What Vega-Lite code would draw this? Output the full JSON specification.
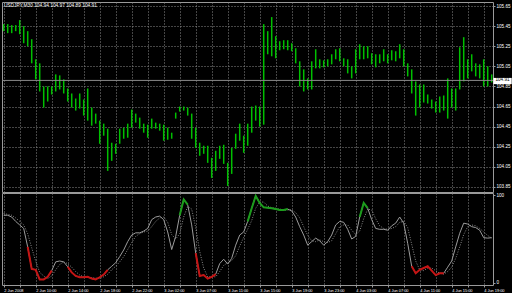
{
  "$schema": "https://vega.github.io/schema/vega-lite/v6.json",
  "background": "black",
  "padding": {"left": 1, "top": 1, "right": 0, "bottom": 0},
  "spacing": -2,
  "config": {
    "view": {"stroke": "#9a9a9a", "strokeWidth": 1},
    "concat": {"spacing": -2},
    "axis": {
      "gridColor": "#8a8a8a", "gridDash": [1, 2], "gridWidth": 1, "gridOpacity": 1,
      "labelColor": "#ffffff", "labelFont": "Liberation Sans", "labelFontSize": 4.6,
      "tickColor": "#9a9a9a", "tickSize": 2, "domain": false, "title": null, "labelOverlap": false
    }
  },
  "data": {"values": [
    {"i":0,"h":105.47,"l":105.40,"m":77,"s":79},
    {"i":1,"h":105.47,"l":105.38,"m":77,"s":78},
    {"i":2,"h":105.46,"l":105.38,"m":75,"s":77},
    {"i":3,"h":105.46,"l":105.40,"m":70,"s":74},
    {"i":4,"h":105.51,"l":105.37,"m":66,"s":70},
    {"i":5,"h":105.45,"l":105.28,"m":62,"s":66},
    {"i":6,"h":105.40,"l":105.25,"m":41,"s":56,"seg":1,"zone":"oversold"},
    {"i":7,"h":105.32,"l":105.08,"m":16,"s":40,"seg":1,"zone":"oversold"},
    {"i":8,"h":105.12,"l":104.92,"m":15,"s":25,"seg":1,"zone":"oversold"},
    {"i":9,"h":105.08,"l":104.80,"m":4,"s":12,"seg":1,"zone":"oversold"},
    {"i":10,"h":104.85,"l":104.64,"m":4,"s":8,"seg":1,"zone":"oversold"},
    {"i":11,"h":104.85,"l":104.70,"m":7,"s":5,"seg":1,"zone":"oversold"},
    {"i":12,"h":104.85,"l":104.77,"m":14,"s":8,"seg":1,"zone":"oversold"},
    {"i":13,"h":104.97,"l":104.80,"m":24,"s":15},
    {"i":14,"h":104.96,"l":104.82,"m":25,"s":21},
    {"i":15,"h":104.92,"l":104.78,"m":24,"s":24},
    {"i":16,"h":104.83,"l":104.70,"m":18.5,"s":22,"seg":2,"zone":"oversold"},
    {"i":17,"h":104.78,"l":104.64,"m":12,"s":18,"seg":2,"zone":"oversold"},
    {"i":18,"h":104.73,"l":104.61,"m":8,"s":13,"seg":2,"zone":"oversold"},
    {"i":19,"h":104.78,"l":104.63,"m":6.5,"s":9,"seg":2,"zone":"oversold"},
    {"i":20,"h":104.72,"l":104.56,"m":6.5,"s":7,"seg":2,"zone":"oversold"},
    {"i":21,"h":104.83,"l":104.51,"m":7,"s":6.5,"seg":2,"zone":"oversold"},
    {"i":22,"h":104.64,"l":104.46,"m":5,"s":6,"seg":2,"zone":"oversold"},
    {"i":23,"h":104.58,"l":104.48,"m":4,"s":5.5,"seg":2,"zone":"oversold"},
    {"i":24,"h":104.51,"l":104.28,"m":6.5,"s":5,"seg":2,"zone":"oversold"},
    {"i":25,"h":104.48,"l":104.36,"m":9.5,"s":7,"seg":2,"zone":"oversold"},
    {"i":26,"h":104.43,"l":104.01,"m":15,"s":10,"seg":2,"zone":"oversold"},
    {"i":27,"h":104.29,"l":104.11,"m":19,"s":15},
    {"i":28,"h":104.28,"l":104.18,"m":23,"s":19},
    {"i":29,"h":104.43,"l":104.28,"m":30,"s":24},
    {"i":30,"h":104.44,"l":104.33,"m":37.5,"s":30},
    {"i":31,"h":104.48,"l":104.34,"m":47,"s":38},
    {"i":32,"h":104.62,"l":104.44,"m":54.5,"s":46},
    {"i":33,"h":104.58,"l":104.49,"m":57,"s":53},
    {"i":34,"h":104.54,"l":104.43,"m":57,"s":56},
    {"i":35,"h":104.48,"l":104.39,"m":59,"s":58},
    {"i":36,"h":104.47,"l":104.34,"m":62,"s":59},
    {"i":37,"h":104.53,"l":104.43,"m":72,"s":64},
    {"i":38,"h":104.49,"l":104.43,"m":75,"s":70},
    {"i":39,"h":104.48,"l":104.41,"m":76,"s":74},
    {"i":40,"h":104.47,"l":104.31,"m":72,"s":75},
    {"i":41,"h":104.44,"l":104.32,"m":58,"s":69},
    {"i":42,"h":104.39,"l":104.33,"m":38,"s":55},
    {"i":43,"h":104.59,"l":104.53,"m":53,"s":50},
    {"i":44,"h":104.65,"l":104.60,"m":77,"s":56,"seg":3,"zone":"overbought"},
    {"i":45,"h":104.65,"l":104.61,"m":95,"s":75,"seg":3,"zone":"overbought"},
    {"i":46,"h":104.64,"l":104.56,"m":89,"s":87,"seg":3,"zone":"overbought"},
    {"i":47,"h":104.58,"l":104.33,"m":66,"s":84},
    {"i":48,"h":104.44,"l":104.24,"m":34,"s":63,"seg":4,"zone":"oversold"},
    {"i":49,"h":104.29,"l":104.16,"m":8,"s":36,"seg":4,"zone":"oversold"},
    {"i":50,"h":104.26,"l":104.18,"m":9,"s":17,"seg":4,"zone":"oversold"},
    {"i":51,"h":104.26,"l":104.09,"m":5,"s":7,"seg":4,"zone":"oversold"},
    {"i":52,"h":104.14,"l":103.94,"m":7,"s":7,"seg":4,"zone":"oversold"},
    {"i":53,"h":104.21,"l":104.01,"m":10,"s":7,"seg":4,"zone":"oversold"},
    {"i":54,"h":104.26,"l":104.13,"m":22,"s":13},
    {"i":55,"h":104.27,"l":104.08,"m":27,"s":20},
    {"i":56,"h":104.09,"l":103.86,"m":21.5,"s":23},
    {"i":57,"h":104.24,"l":103.98,"m":28,"s":25.5},
    {"i":58,"h":104.38,"l":104.23,"m":43,"s":31},
    {"i":59,"h":104.48,"l":104.31,"m":54.5,"s":42},
    {"i":60,"h":104.36,"l":104.19,"m":58,"s":52},
    {"i":61,"h":104.48,"l":104.26,"m":70,"s":61,"seg":5,"zone":"overbought"},
    {"i":62,"h":104.65,"l":104.39,"m":85,"s":71,"seg":5,"zone":"overbought"},
    {"i":63,"h":104.66,"l":104.51,"m":99,"s":85,"seg":5,"zone":"overbought"},
    {"i":64,"h":104.65,"l":104.45,"m":91,"s":92,"seg":5,"zone":"overbought"},
    {"i":65,"h":105.47,"l":104.47,"m":86,"s":92,"seg":5,"zone":"overbought"},
    {"i":66,"h":105.40,"l":105.17,"m":85.5,"s":87.5,"seg":5,"zone":"overbought"},
    {"i":67,"h":105.54,"l":105.15,"m":85,"s":85.5,"seg":5,"zone":"overbought"},
    {"i":68,"h":105.35,"l":105.13,"m":84,"s":85,"seg":5,"zone":"overbought"},
    {"i":69,"h":105.30,"l":105.21,"m":83,"s":84,"seg":5,"zone":"overbought"},
    {"i":70,"h":105.31,"l":105.22,"m":83,"s":83,"seg":5,"zone":"overbought"},
    {"i":71,"h":105.31,"l":105.21,"m":84,"s":83,"seg":5,"zone":"overbought"},
    {"i":72,"h":105.28,"l":105.20,"m":82,"s":83},
    {"i":73,"h":105.23,"l":105.08,"m":75,"s":80},
    {"i":74,"h":105.10,"l":104.85,"m":64,"s":74},
    {"i":75,"h":105.02,"l":104.80,"m":54.5,"s":64},
    {"i":76,"h":104.93,"l":104.82,"m":43,"s":54},
    {"i":77,"h":105.10,"l":104.82,"m":47,"s":48},
    {"i":78,"h":105.22,"l":105.03,"m":51,"s":47},
    {"i":79,"h":105.12,"l":105.03,"m":48,"s":49},
    {"i":80,"h":105.11,"l":105.04,"m":43,"s":47},
    {"i":81,"h":105.12,"l":105.05,"m":47,"s":46},
    {"i":82,"h":105.17,"l":105.07,"m":54.5,"s":48},
    {"i":83,"h":105.22,"l":105.12,"m":66,"s":56},
    {"i":84,"h":105.23,"l":105.10,"m":70,"s":64},
    {"i":85,"h":105.13,"l":105.05,"m":69,"s":66},
    {"i":86,"h":105.12,"l":104.98,"m":61,"s":66},
    {"i":87,"h":105.05,"l":104.93,"m":50,"s":60},
    {"i":88,"h":105.22,"l":104.98,"m":53,"s":55},
    {"i":89,"h":105.27,"l":105.12,"m":75,"s":59,"seg":6,"zone":"overbought"},
    {"i":90,"h":105.25,"l":105.12,"m":91,"s":73,"seg":6,"zone":"overbought"},
    {"i":91,"h":105.25,"l":105.13,"m":85,"s":84,"seg":6,"zone":"overbought"},
    {"i":92,"h":105.18,"l":105.07,"m":72,"s":83},
    {"i":93,"h":105.17,"l":105.04,"m":62,"s":73},
    {"i":94,"h":105.17,"l":105.08,"m":61,"s":65},
    {"i":95,"h":105.22,"l":105.10,"m":61,"s":62},
    {"i":96,"h":105.17,"l":105.08,"m":60,"s":61},
    {"i":97,"h":105.21,"l":105.11,"m":65,"s":62},
    {"i":98,"h":105.20,"l":105.10,"m":68,"s":64},
    {"i":99,"h":105.27,"l":105.13,"m":75,"s":69},
    {"i":100,"h":105.22,"l":105.05,"m":68,"s":70},
    {"i":101,"h":105.08,"l":104.95,"m":45,"s":63},
    {"i":102,"h":105.02,"l":104.78,"m":19,"s":44,"seg":7,"zone":"oversold"},
    {"i":103,"h":104.90,"l":104.56,"m":11,"s":25,"seg":7,"zone":"oversold"},
    {"i":104,"h":104.87,"l":104.64,"m":15,"s":15,"seg":7,"zone":"oversold"},
    {"i":105,"h":104.87,"l":104.69,"m":17,"s":14,"seg":7,"zone":"oversold"},
    {"i":106,"h":104.77,"l":104.68,"m":19,"s":17,"seg":7,"zone":"oversold"},
    {"i":107,"h":104.72,"l":104.63,"m":14,"s":17,"seg":7,"zone":"oversold"},
    {"i":108,"h":104.70,"l":104.59,"m":9,"s":14,"seg":7,"zone":"oversold"},
    {"i":109,"h":104.75,"l":104.59,"m":11,"s":11,"seg":7,"zone":"oversold"},
    {"i":110,"h":104.76,"l":104.61,"m":11,"s":10,"seg":7,"zone":"oversold"},
    {"i":111,"h":104.93,"l":104.53,"m":18,"s":13},
    {"i":112,"h":104.83,"l":104.64,"m":25,"s":18},
    {"i":113,"h":104.83,"l":104.61,"m":41,"s":28},
    {"i":114,"h":105.24,"l":104.82,"m":56.5,"s":41},
    {"i":115,"h":105.34,"l":104.90,"m":68,"s":55},
    {"i":116,"h":105.12,"l":104.93,"m":67,"s":64},
    {"i":117,"h":105.17,"l":105.00,"m":64,"s":66},
    {"i":118,"h":105.08,"l":104.95,"m":63,"s":65},
    {"i":119,"h":105.07,"l":104.93,"m":60,"s":62},
    {"i":120,"h":105.12,"l":104.85,"m":51.5,"s":58},
    {"i":121,"h":105.05,"l":104.85,"m":51,"s":54},
    {"i":122,"h":104.97,"l":104.89,"m":51.5,"s":51}
  ]},
  "vconcat": [
    {
      "width": 491,
      "height": 190,
      "layer": [
        {
          "mark": {"type": "rule", "color": "#00c000", "strokeWidth": 1.5},
          "encoding": {
            "x": {"field": "i", "type": "quantitative",
                  "scale": {"domain": [-0.425, 122.325], "nice": false, "zero": false},
                  "axis": {"values": [0,4,8,12,16,20,24,28,32,36,40,44,48,52,56,60,64,68,72,76,80,84,88,92,96,100,104,108,112,116,120], "tickCount": 100, "labels": false, "ticks": false, "grid": true, "labelPadding": 0, "offset": 0, "minExtent": 0, "maxExtent": 0}},
            "y": {"field": "l", "type": "quantitative",
                  "scale": {"domain": [103.80, 105.69], "nice": false, "zero": false},
                  "axis": {"orient": "right", "values": [103.85,104.05,104.25,104.45,104.65,104.85,105.05,105.25,105.45,105.65], "tickCount": 100, "format": ".2f", "grid": true, "labelPadding": 1, "labelOverlap": false}},
            "y2": {"field": "h"}
          }
        },
        {
          "data": {"values": [{"last": 104.91}]},
          "mark": {"type": "rule", "color": "#8a8a8a", "strokeWidth": 1},
          "encoding": {"y": {"field": "last", "type": "quantitative"}}
        },
        {
          "data": {"values": [{"last": 104.91}]},
          "mark": {"type": "rect", "color": "#ffffff", "clip": false},
          "encoding": {
            "x": {"datum": 122.4, "type": "quantitative"},
            "x2": {"datum": 127.0},
            "y": {"datum": 104.935, "type": "quantitative"},
            "y2": {"datum": 104.873}
          }
        },
        {
          "data": {"values": [{"last": 104.91}]},
          "mark": {"type": "text", "color": "#000000", "font": "Liberation Sans", "fontSize": 4.6, "align": "center", "baseline": "middle", "clip": false},
          "encoding": {
            "x": {"datum": 124.7, "type": "quantitative"},
            "y": {"field": "last", "type": "quantitative"},
            "text": {"field": "last", "type": "quantitative", "format": ".2f"}
          }
        },
        {
          "data": {"values": [{"label": "USDJPY,M30  104.94 104.97 104.89 104.91"}]},
          "mark": {"type": "text", "color": "#ffffff", "font": "Liberation Sans", "fontSize": 4.8, "align": "left", "baseline": "middle", "dx": 1},
          "encoding": {
            "x": {"datum": -0.2, "type": "quantitative"},
            "y": {"datum": 105.65, "type": "quantitative"},
            "text": {"field": "label", "type": "nominal"}
          }
        }
      ]
    },
    {
      "width": 491,
      "height": 92,
      "encoding": {
        "x": {"field": "i", "type": "quantitative",
              "scale": {"domain": [-0.425, 122.325], "nice": false, "zero": false},
              "axis": {"values": [0,4,8,12,16,20,24,28,32,36,40,44,48,52,56,60,64,68,72,76,80,84,88,92,96,100,104,108,112,116,120], "tickCount": 100, "grid": true, "labelAlign": "left", "labelPadding": 1, "labelFontSize": 3.9, "labelFlush": false, "labelOverlap": false,
                       "labelExpr": "datum.value % 8 == 0 ? ['2 Jun 2008','2 Jun 10:00','2 Jun 14:00','2 Jun 18:00','2 Jun 22:00','3 Jun 02:00','3 Jun 07:00','3 Jun 11:00','3 Jun 15:00','3 Jun 19:00','3 Jun 23:00','4 Jun 03:00','4 Jun 07:00','4 Jun 11:00','4 Jun 15:00','4 Jun 19:00'][datum.value / 8] : ''"}}
      },
      "layer": [
        {
          "mark": {"type": "line", "color": "#8a8a8a", "strokeWidth": 1, "strokeDash": [1, 1.5]},
          "encoding": {
            "y": {"field": "s", "type": "quantitative",
                  "scale": {"domain": [-2.3, 102.3], "nice": false, "zero": false},
                  "axis": {"orient": "right", "values": [0, 100], "tickCount": 10, "grid": false, "labelPadding": 1, "labelOverlap": false}}
          }
        },
        {
          "mark": {"type": "line", "color": "#9c9c9c", "strokeWidth": 1},
          "encoding": {"y": {"field": "m", "type": "quantitative"}}
        },
        {
          "transform": [{"filter": "isValid(datum.seg)"}],
          "mark": {"type": "line", "strokeWidth": 2},
          "encoding": {
            "y": {"field": "m", "type": "quantitative"},
            "detail": {"field": "seg", "type": "nominal"},
            "color": {"field": "zone", "type": "nominal", "scale": {"domain": ["overbought", "oversold"], "range": ["#1c9c1c", "#c41414"]}, "legend": null}
          }
        },
        {
          "data": {"values": [{"label": "Stochastic (M30,14,3,3,SMA,Low/High,80.00000000,20.00000000) 3.1825 4.1522"}]},
          "mark": {"type": "text", "color": "#ffffff", "font": "Liberation Sans", "fontSize": 4.8, "align": "left", "baseline": "middle", "dx": 1},
          "encoding": {
            "x": {"datum": -0.2, "type": "quantitative"},
            "y": {"datum": 97.5, "type": "quantitative"},
            "text": {"field": "label", "type": "nominal"}
          }
        }
      ]
    }
  ]
}
